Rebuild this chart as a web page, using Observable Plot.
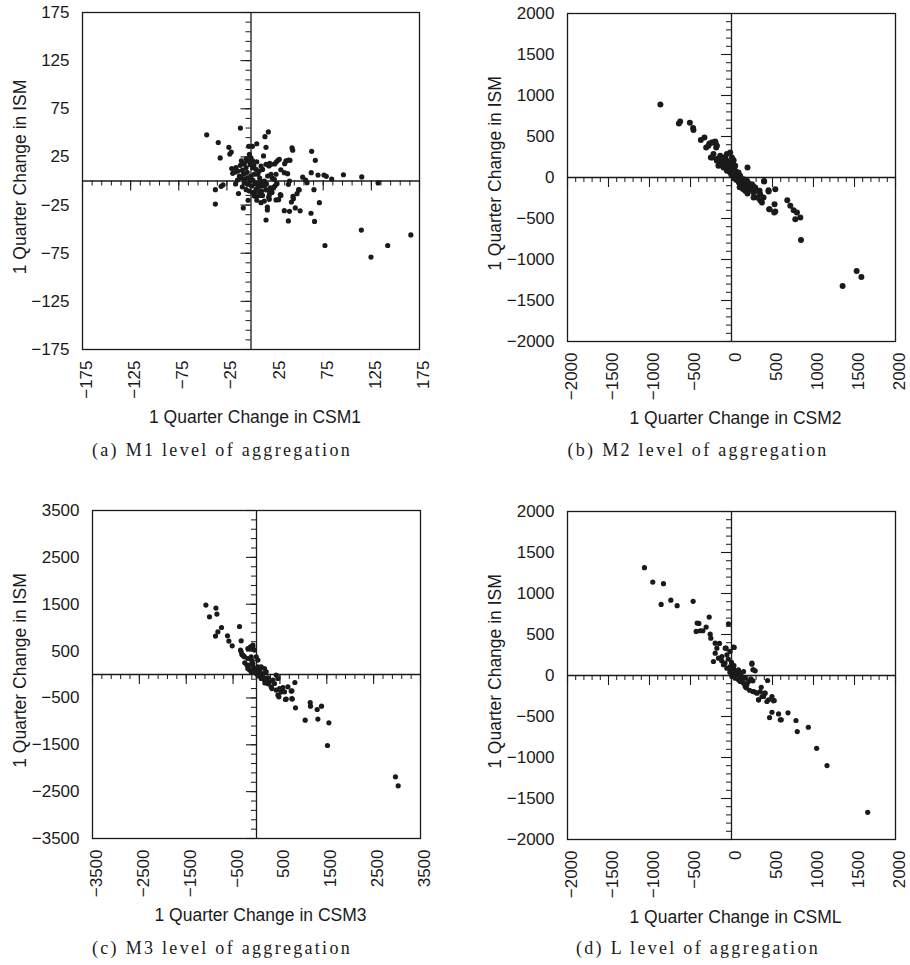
<!DOCTYPE html>
<html>
<head>
<meta charset="utf-8">
<script src="https://cdn.jsdelivr.net/npm/d3@7"></script>
<script src="https://cdn.jsdelivr.net/npm/@observablehq/plot@0.6"></script>
<style>
  html, body { margin: 0; padding: 0; background: #fff; }
  body { width: 910px; height: 965px; position: relative; overflow: hidden; }
  .panel { position: absolute; }
  .cap { position: absolute; font-family: "Liberation Serif", "Times New Roman", serif; font-size: 18px;
         letter-spacing: 2.3px; color: #1a1a1a; white-space: nowrap; transform: translate(-50%, -50%); }
</style>
</head>
<body>
<script>
// ---------- Data ----------
// (a) M1: 1 quarter change in CSM1 (x) vs ISM (y)
const m1X = [-46,-34,-11,-32,-23,-20.5,-22,-37,-31,-29,-37,-16,-13,-8,-3,-2.4,1.5,6,14.5,18,15.6,13,
  15.6,17,17,38.8,34.6,40,46,51,62.3,66,71,65.4,49.5,43.6,42,31,28.7,26,
  42.6,43.3,63,66.8,62.6,69.6,75.8,78.2,83.8,96,115,132,53.7,56.8,58.2,
  114.6,166,142,124.6,76.8,
  35,36.3,40.5,28,26.3,24.6,19.4,18.7,31,34.6,38,40,38.8,27,23.6,21.5,19.7,18.4,9.7,4.5,7.3,5.5,
  -15.6,-13.8,-16.3,-11,-7,-5.2,-7.6,-3.4,-0.7,15.9,20,21.8,30.4,19,19,11,8.6,12,5.2,0.7,-3.4,-7,
  -10.4,-7,-3.4,0,3.4,7,1.7,5.2,8.6,12,10.4,15.6,20.8,0,1.7,-1.7,
  17.3,20.8,24.2,26,13.8,7,-1.7,1.7,3.4,10.4,13.8,47.8,50,44,29.4,39,
  -12,-9,-4,2,4,9,11,-1,3,6,-5,9,14,-9,-14,-19,-20,-10,6,12,16,22,25,-5];
const m1Y = [48,40,55,24,35,30,28,-9,-5.5,-4,-24,-3,-13,-28,-20,36,36,38.7,46,51,35,26,
  -40.5,-27,-30,-41.5,-30.8,-31.5,-28,-31,-33.5,-42,-22.5,-9,-9,-16,-21.8,-15,-19.4,-19.7,
  34.3,32,30.8,21.5,8.6,6.2,6.2,4.9,2,6.5,4.2,-2,4,1,-1.8,
  -51,-56,-67,-79,-67,
  18,20.8,21.5,21.5,19.7,17.7,18.4,15.6,11.7,8.6,7.6,0,-3.5,-2.8,-6.6,-9.3,-11.8,-17,-11.4,-11.8,-7,-16.3,
  13.8,10.4,9.3,16.3,18,13.8,7,20.8,17.3,-9.3,-7,-12,-14.2,-19,-14.5,-10.4,-5.2,-5.2,-8.6,-5.2,-3.4,-1.8,
  3.4,1.8,3.4,5.2,7,7,13.8,12,10.4,12,15.6,17.3,17.3,24,20.8,27.7,
  5.2,7,1.8,7,0,-1.8,-10.4,-12,-15.6,-22.5,-20.8,-13.2,-9.3,-18.4,22.5,21.8,
  5,11,9,1,-3,3,-1,0,16,20,23,-15,-5,-6,1,8,13,21,-20,-15,-3,3,-5,-9];

// (b) M2
const m2X = [-867,-642,-626,-508,-464,-468,-374,-330,-309,-269,-227,-195,-187,-232,-220,-159,-178,-138,-77,-56,-16,24,45,195,396,261,310,342,167,195,269,350,371,452,534,460,525,534,680,717,758,798,778,839,847,1355,1526,1584,
  -281,-239,-199,-178,-252,-178,-138,-98,-56,5,24,
  -98,-56,-16,5,45,85,66,106,147,188,127,167,208,249,289,330,269,350,391,310,399,452,464,521,
  -120,-80,-40,-20,0,20,30,60,90,110,-60,-30,10,50,80,120,150,170,-100,-150,230,200,100,140];
const m2Y = [891,659,684,668,579,603,457,488,366,415,427,427,366,244,286,143,204,183,244,286,305,212,143,122,-44,-101,-162,-162,-162,-195,-244,-276,-305,-171,-142,-386,-325,-415,-276,-346,-398,-427,-508,-488,-761,-1322,-1139,-1212,
  387,427,440,387,244,225,265,244,204,244,204,
  122,82,61,102,82,61,0,21,-20,-40,-81,-101,-122,-81,-122,-162,-183,-203,-244,-244,-49,-154,-386,-427,
  150,170,140,100,30,40,-10,-30,-60,-90,120,180,150,20,-10,-30,-70,-50,200,230,-150,-60,-120,-140];

// (c) M3
const m3X = [-1080,-1003,-866,-845,-875,-824,-747,-619,-589,-519,-363,-327,-341,-312,-277,-184,-128,-77,
  819,755,755,619,478,563,527,832,1039,1146,1152,1310,1295,1387,1545,1515,2966,3024,
  -327,-290,-256,-149,-77,-43,-184,-113,-6,30,
  -184,-149,-77,-43,30,64,100,-113,-6,64,137,171,207,
  100,171,243,277,350,384,420,457,314,420,491,527,598,670,741,762,634,457,
  -250,-200,-100,-60,0,50,120,200,150,30,-30,-150,250,330,180];
const m3Y = [1481,1231,1417,1289,819,911,1003,826,713,612,1024,719,521,427,393,555,591,627,
  -171,-348,-512,-533,-476,-277,-369,-711,-974,-598,-675,-952,-747,-675,-1031,-1515,-2183,-2375,
  484,414,378,555,591,521,341,378,378,307,
  128,201,235,128,164,94,164,58,21,-13,21,128,58,
  -85,-120,-70,-156,-120,-192,-13,-85,-262,-333,-299,-369,-369,-262,-354,-525,-525,-440,
  250,200,300,150,100,50,-40,-100,-60,-30,60,100,-200,-300,-180];

// (d) L
const lX = [-1062,-960,-830,-858,-740,-663,-468,-272,-419,-398,-431,-382,-349,-309,-260,-252,-199,-147,-178,-199,-220,-37,-65,24,249,269,440,363,261,289,330,371,403,432,493,521,464,493,574,595,689,786,802,937,1038,1165,1661,
  -159,-117,-56,-77,-16,33,
  -98,-56,-16,24,5,45,66,85,106,127,147,167,45,5,85,106,147,188,167,208,237,261,249,261,289,269,310,350,391,411,330,452,513,607,
  -120,-80,-40,0,20,60,-20,100,130,180,220,-10,30];
const lY = [1315,1139,1120,867,919,851,904,712,639,635,537,546,546,590,504,455,394,391,333,272,171,631,333,346,150,70,-61,-143,-195,-204,-297,-256,-216,-317,-256,-305,-513,-448,-468,-541,-455,-549,-684,-631,-888,-1099,-1669,
  211,232,253,333,293,342,
  131,89,110,89,28,49,9,70,28,-12,49,-33,-33,-12,-53,-73,-94,-114,-134,-73,-40,-65,138,70,57,-195,-216,-195,-256,-216,-297,-297,-309,-541,
  180,150,200,160,60,20,40,0,-60,-150,-180,70,120];

// Tick labels
const ticksA = [-175,-125,-75,-25,25,75,125,175];
const ticksB = [-2000,-1500,-1000,-500,0,500,1000,1500,2000];
const ticksC = [-3500,-2500,-1500,-500,500,1500,2500,3500];
const ticksD = [-2000,-1500,-1000,-500,0,500,1000,1500,2000];

const xLabels = ["1 Quarter Change in CSM1","1 Quarter Change in CSM2","1 Quarter Change in CSM3","1 Quarter Change in CSML"];
const yLabel = "1 Quarter Change in ISM";
const captions = ["(a) M1 level of aggregation","(b) M2 level of aggregation","(c) M3 level of aggregation","(d) L level of aggregation"];

// ---------- Drawing ----------
const ink = "#1a1a1a";
const sans = "'Liberation Sans', Arial, Helvetica, sans-serif";
const fmt = d3.format("d");

function makePanel(o) {
  const pts = o.xs.map((x, i) => ({x, y: o.ys[i]}));
  const svg = Plot.plot({
    width: o.width, height: o.height,
    marginLeft: o.mL, marginRight: o.mR, marginTop: o.mT, marginBottom: o.mB,
    style: {fontFamily: sans, fontSize: "17px", color: ink, background: "transparent", overflow: "visible"},
    x: {domain: [-o.lim, o.lim], axis: null},
    y: {domain: [-o.lim, o.lim], axis: null},
    marks: [
      Plot.axisX({anchor: "bottom", ticks: o.ticks, tickFormat: fmt, tickRotate: -90, tickSize: 0,
                  tickPadding: 11, dx: 4, label: null, fontSize: 17, fill: ink}),
      Plot.axisY({anchor: "left", ticks: o.ticks, tickFormat: fmt, tickSize: 0,
                  tickPadding: 13, label: null, fontSize: 17, fill: ink}),
      Plot.frame({stroke: ink, strokeWidth: 1.3}),
      Plot.ruleX([0], {stroke: ink, strokeWidth: 1.3}),
      Plot.ruleY([0], {stroke: ink, strokeWidth: 1.3}),
      Plot.ruleX(o.minor, {x: d => d, y1: 0, y2: 0, insetBottom: -5, stroke: ink, strokeWidth: 1}),
      Plot.ruleX(o.ticks, {x: d => d, y1: 0, y2: 0, insetBottom: -10, stroke: ink, strokeWidth: 1.1}),
      Plot.ruleY(o.minor, {y: d => d, x1: 0, x2: 0, insetLeft: -5, stroke: ink, strokeWidth: 1}),
      Plot.ruleY(o.ticks, {y: d => d, x1: 0, x2: 0, insetLeft: -10, stroke: ink, strokeWidth: 1.1}),
      Plot.dot(pts, {x: "x", y: "y", r: o.r, fill: ink, stroke: null}),
      Plot.text([o.xLabel], {frameAnchor: "bottom", dy: o.xLabOff, dx: 4, lineAnchor: "middle",
                             textAnchor: "middle", fontSize: 17.5, fill: ink}),
      Plot.text([yLabel], {frameAnchor: "left", dx: -o.yLabOff, dy: -4, rotate: -90, lineAnchor: "middle",
                           textAnchor: "middle", fontSize: 17.5, fill: ink})
    ]
  });
  const div = document.createElement("div");
  div.className = "panel";
  div.style.left = o.left + "px";
  div.style.top = o.top + "px";
  div.appendChild(svg);
  document.body.appendChild(div);

  const cap = document.createElement("div");
  cap.className = "cap";
  cap.style.left = o.capX + "px";
  cap.style.top = o.capY + "px";
  cap.textContent = o.caption;
  document.body.appendChild(cap);
}

makePanel({xs: m1X, ys: m1Y, lim: 175, ticks: ticksA, minor: d3.range(-175, 176, 10), r: 2.6,
  left: 0, top: 0, width: 455, height: 460, mL: 82, mR: 36, mT: 12, mB: 111,
  xLabel: xLabels[0], xLabOff: 68, yLabOff: 62, caption: captions[0], capX: 222, capY: 450});
makePanel({xs: m2X, ys: m2Y, lim: 2000, ticks: ticksB, minor: d3.range(-2000, 2001, 100), r: 3,
  left: 455, top: 0, width: 455, height: 460, mL: 112, mR: 15, mT: 13, mB: 119,
  xLabel: xLabels[1], xLabOff: 77, yLabOff: 72, caption: captions[1], capX: 698, capY: 450});
makePanel({xs: m3X, ys: m3Y, lim: 3500, ticks: ticksC, minor: d3.range(-3500, 3501, 200), r: 2.6,
  left: 0, top: 460, width: 455, height: 505, mL: 92, mR: 35, mT: 50, mB: 127,
  xLabel: xLabels[2], xLabOff: 77, yLabOff: 72, caption: captions[2], capX: 222, capY: 948});
makePanel({xs: lX, ys: lY, lim: 2000, ticks: ticksD, minor: d3.range(-2000, 2001, 100), r: 2.6,
  left: 455, top: 460, width: 455, height: 505, mL: 112, mR: 15, mT: 51, mB: 126,
  xLabel: xLabels[3], xLabOff: 78, yLabOff: 72, caption: captions[3], capX: 698, capY: 948});
</script>
</body>
</html>
